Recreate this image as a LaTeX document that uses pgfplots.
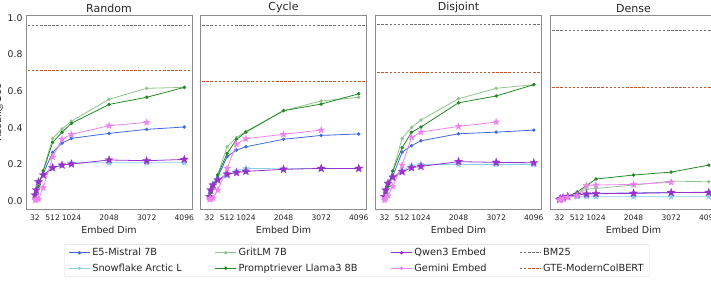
\documentclass[border=0pt]{standalone}
\usepackage{fontspec}
\setmainfont{DejaVu Sans}
\usepackage{pgfplots}
\usepackage{pgfplotstable}
\pgfplotsset{compat=1.18}

\definecolor{e5c}{HTML}{4169E1}
\definecolor{snowc}{HTML}{87CEEB}
\definecolor{gritc}{HTML}{8FC48F}
\definecolor{promc}{HTML}{228B22}
\definecolor{qwenc}{HTML}{9932CC}
\definecolor{gemc}{HTML}{EE82EE}
\definecolor{bmc}{HTML}{707070}
\definecolor{gtec}{HTML}{C0582B}
\definecolor{txtc}{HTML}{262626}

\pgfdeclareplotmark{fstar}{%
  \pgfpathmoveto{\pgfpointpolar{90}{\pgfplotmarksize}}%
  \pgfpathlineto{\pgfpointpolar{126}{0.42\pgfplotmarksize}}%
  \pgfpathlineto{\pgfpointpolar{162}{\pgfplotmarksize}}%
  \pgfpathlineto{\pgfpointpolar{198}{0.42\pgfplotmarksize}}%
  \pgfpathlineto{\pgfpointpolar{234}{\pgfplotmarksize}}%
  \pgfpathlineto{\pgfpointpolar{270}{0.42\pgfplotmarksize}}%
  \pgfpathlineto{\pgfpointpolar{306}{\pgfplotmarksize}}%
  \pgfpathlineto{\pgfpointpolar{342}{0.42\pgfplotmarksize}}%
  \pgfpathlineto{\pgfpointpolar{18}{\pgfplotmarksize}}%
  \pgfpathlineto{\pgfpointpolar{54}{0.42\pgfplotmarksize}}%
  \pgfpathclose
  \pgfusepathqfillstroke
}

\pgfplotstableread{
dim  e5    snow  grit  prom  qwen  gem
32   0.030 0.030 0.020 0.020 0.033 0.005
64   0.060 0.060 0.050 0.050 0.060 0.008
128  0.100 0.100 0.090 0.080 0.105 0.010
256  0.150 0.140 0.168 0.164 0.142 0.073
512  0.266 0.178 0.342 0.320 0.182 0.240
768  0.316 0.195 0.393 0.375 0.196 0.337
1024 0.342 0.208 0.436 0.424 0.202 0.364
2048 0.369 0.209 0.555 0.527 0.224 0.411
3072 0.391 0.209 0.615 0.566 0.220 0.429
4096 0.404 0.209 0.620 0.620 0.227 nan
}\tabRandom

\pgfplotstableread{
dim  e5    snow  grit  prom  qwen  gem
32   0.025 0.025 0.020 0.020 0.024 0.009
64   0.050 0.055 0.050 0.045 0.060 0.012
128  0.090 0.090 0.080 0.080 0.087 0.015
256  0.130 0.115 0.145 0.142 0.115 0.060
512  0.242 0.138 0.296 0.260 0.147 0.178
768  0.278 0.165 0.347 0.337 0.155 0.311
1024 0.296 0.178 0.380 0.376 0.162 0.340
2048 0.337 0.176 0.493 0.493 0.173 0.364
3072 0.358 0.178 0.546 0.529 0.178 0.387
4096 0.366 0.178 0.566 0.585 0.178 nan
}\tabCycle

\pgfplotstableread{
dim  e5    snow  grit  prom  qwen  gem
32   0.025 0.025 0.020 0.020 0.024 0.005
64   0.050 0.055 0.050 0.045 0.060 0.015
128  0.085 0.090 0.090 0.080 0.097 0.030
256  0.135 0.130 0.164 0.164 0.130 0.080
512  0.267 0.165 0.342 0.291 0.160 0.196
768  0.302 0.193 0.402 0.375 0.182 0.347
1024 0.329 0.200 0.442 0.404 0.189 0.376
2048 0.367 0.200 0.558 0.536 0.215 0.407
3072 0.376 0.200 0.615 0.573 0.211 0.431
4096 0.387 0.200 0.635 0.635 0.209 nan
}\tabDisjoint

\pgfplotstableread{
dim  e5    snow  grit  prom  qwen  gem
32   0.008 0.008 0.008 0.008 0.008 0.005
64   0.012 0.012 0.012 0.012 0.013 0.008
128  0.018 0.017 0.018 0.018 0.018 0.012
256  0.024 0.022 0.025 0.025 0.025 0.020
512  0.035 0.024 0.040 0.049 0.035 0.030
768  0.040 0.024 0.064 0.085 0.038 0.085
1024 0.042 0.024 0.069 0.120 0.040 0.087
2048 0.044 0.024 0.087 0.142 0.042 0.091
3072 0.046 0.024 0.109 0.158 0.046 0.102
4096 0.048 0.024 0.105 0.196 0.047 nan
}\tabDense

\pgfplotsset{
  e5s/.style={color=e5c, line width=0.8pt, mark=*, mark size=1.3pt, forget plot},
  snows/.style={color=snowc, line width=0.8pt, mark=fstar, mark size=3.4pt, mark options={line width=0.2pt}, forget plot},
  grits/.style={color=gritc, line width=0.8pt, mark=*, mark size=1.3pt, forget plot},
  proms/.style={color=promc, line width=0.8pt, mark=*, mark size=1.3pt, forget plot},
  qwens/.style={color=qwenc, line width=0.8pt, mark=fstar, mark size=4.3pt, mark options={line width=0.2pt}, forget plot},
  gems/.style={color=gemc, line width=0.8pt, mark=fstar, mark size=3.6pt, mark options={line width=0.2pt}, forget plot},
  bms/.style={color=bmc, line width=0.7pt, dash pattern=on 2.5pt off 1.6pt, forget plot},
  gtes/.style={color=gtec, line width=0.7pt, dash pattern=on 2.5pt off 1.6pt, forget plot},
  panel/.style={
    scale only axis, width=166pt, height=193.6pt, anchor=south west,
    xmin=-213, xmax=4306, ymin=-0.045, ymax=1.011,
    xtick={32,512,1024,2048,3072,4096},
    xticklabels={32,512,1024,2048,3072,4096},
    ytick={0,0.2,0.4,0.6,0.8,1.0},
    major tick length=0pt,
    axis line style={black!45, line width=0.6pt},
    /pgf/number format/assume math mode=true,
    tick label style={text=txtc},
    x tick label style={font=\fontsize{7.6}{8}\selectfont, yshift=-2pt},
    y tick label style={font=\fontsize{9.3}{10}\selectfont, /pgf/number format/.cd, fixed, fixed zerofill, precision=1},
    xlabel={Embed Dim},
    xlabel style={font=\fontsize{9.5}{10}\selectfont, text=txtc, at={(axis description cs:0.5,0)}, anchor=center, yshift=-20.7pt},
    title style={font=\fontsize{11}{13}\selectfont, text=txtc, at={(axis description cs:0.5,1)}, anchor=south, yshift=-6.3pt},
    clip=true,
  },
}

\newcommand{\panelplots}[3]{%
  \addplot[e5s] table[x=dim,y=e5]{#1};
  \addplot[snows] table[x=dim,y=snow]{#1};
  \addplot[grits] table[x=dim,y=grit]{#1};
  \addplot[proms] table[x=dim,y=prom]{#1};
  \addplot[qwens] table[x=dim,y=qwen]{#1};
  \addplot[gems] table[x=dim,y=gem]{#1};
  \addplot[bms] coordinates {(-500,#2) (4700,#2)};
  \addplot[gtes] coordinates {(-500,#3) (4700,#3)};
}

\begin{document}
\begin{tikzpicture}
\path[use as bounding box] (0pt,0pt) rectangle (711pt,281pt);
\clip (0pt,0pt) rectangle (711pt,281pt);

\begin{axis}[panel, at={(26pt,71.7pt)}, title={Random},
  ylabel={Recall@100},
  ylabel style={font=\fontsize{10}{11}\selectfont, text=txtc, at={(axis description cs:-0.168,0.5)}, anchor=center},
  legend columns=4,
  legend cell align=left,
  legend style={at={(axis description cs:1.994,-0.2645)}, anchor=center,
    draw=black!15, rounded corners=2pt, fill=white, text=txtc,
    font=\fontsize{9.8}{11}\selectfont, row sep=2.5pt,
    inner xsep=4pt,
    /tikz/every even column/.append style={column sep=31pt}},
  legend image code/.code={\draw[mark repeat=2,mark phase=2] plot coordinates {(0pt,0pt) (10.5pt,0pt) (21pt,0pt)};},
]
\panelplots{\tabRandom}{0.960}{0.711}
\addlegendimage{color=e5c, line width=0.8pt, mark=*, mark size=1.3pt}
\addlegendentry{E5-Mistral 7B}
\addlegendimage{color=gritc, line width=0.8pt, mark=*, mark size=1.3pt}
\addlegendentry{GritLM 7B}
\addlegendimage{color=qwenc, line width=0.8pt, mark=*, mark size=1.3pt}
\addlegendentry{Qwen3 Embed}
\addlegendimage{color=bmc, line width=0.7pt, dash pattern=on 2.5pt off 1.6pt}
\addlegendentry{BM25}
\addlegendimage{color=snowc, line width=0.8pt, mark=*, mark size=1.3pt}
\addlegendentry{Snowflake Arctic L}
\addlegendimage{color=promc, line width=0.8pt, mark=*, mark size=1.3pt}
\addlegendentry{Promptriever Llama3 8B}
\addlegendimage{color=gemc, line width=0.8pt, mark=*, mark size=1.3pt}
\addlegendentry{Gemini Embed}
\addlegendimage{color=gtec, line width=0.7pt, dash pattern=on 2.5pt off 1.6pt}
\addlegendentry{GTE-ModernColBERT}
\end{axis}

\begin{axis}[panel, at={(200.5pt,71.7pt)}, title={Cycle}, yticklabels={}]
\panelplots{\tabCycle}{0.960}{0.655}
\end{axis}

\begin{axis}[panel, at={(375.5pt,71.7pt)}, title={Disjoint}, yticklabels={}]
\panelplots{\tabDisjoint}{0.966}{0.704}
\end{axis}

\begin{axis}[panel, at={(550.5pt,71.7pt)}, title={Dense}, yticklabels={}]
\panelplots{\tabDense}{0.931}{0.618}
\end{axis}
\end{tikzpicture}
\end{document}
